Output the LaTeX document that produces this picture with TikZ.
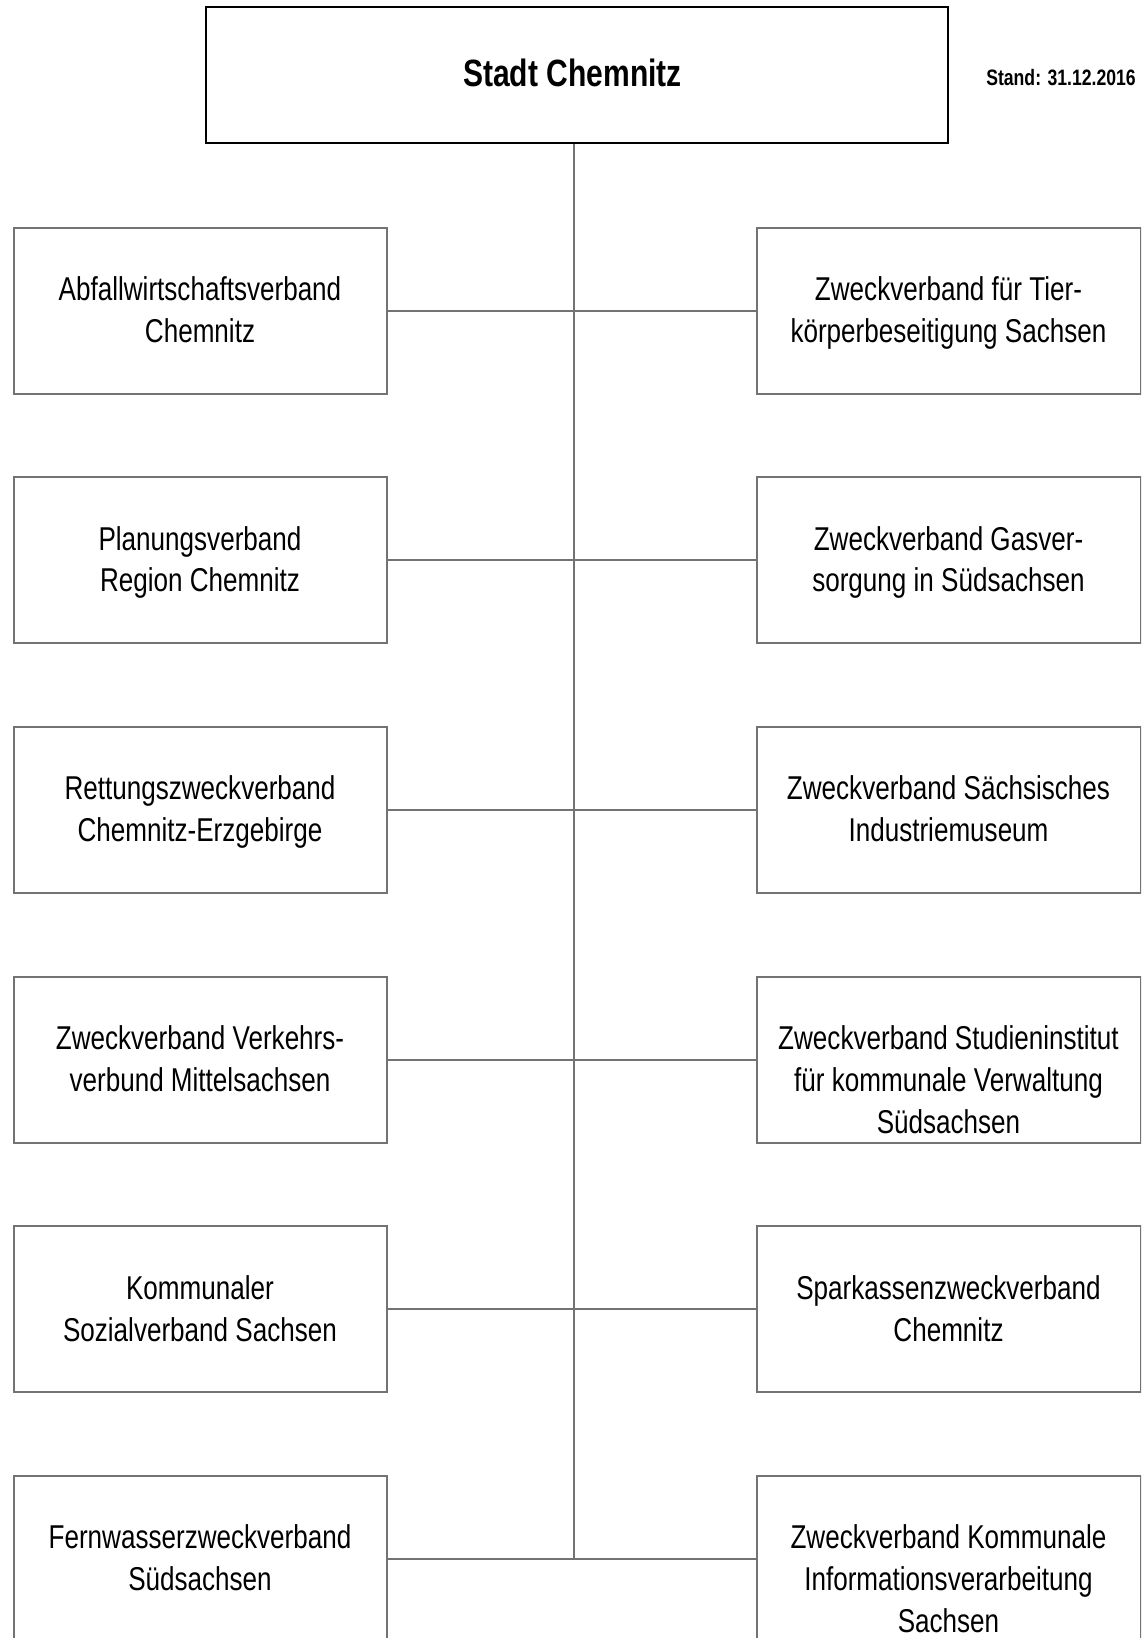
\documentclass[tikz,border=0pt]{standalone}
\usepackage{fontspec}
\setmainfont[FakeStretch=0.79]{Liberation Sans}
\definecolor{linegray}{RGB}{115,115,115}
\begin{document}
\begin{tikzpicture}[x=1pt,y=-1pt,
  orgbox/.style={draw=linegray,line width=2pt,fill=white,minimum width=373pt,minimum height=166pt,inner sep=0pt},
  orgboxr/.style={orgbox,minimum width=384pt},
  orgtext/.style={anchor=north,align=center,inner sep=0pt,font=\fontsize{33}{41.8}\selectfont},
  conn/.style={draw=linegray,line width=2pt}]
\useasboundingbox (0,0) rectangle (1141,1638);
\clip (0,0) rectangle (1141,1638);
\fill[white] (0,0) rectangle (1141,1638);
% trunk
\coordinate (t0) at (573.6,143);
\coordinate (t1) at (573.6,1559);
\draw[conn] (t0) -- (t1);
% top box
\node[draw=black,line width=2.2pt,minimum width=742pt,minimum height=136pt,inner sep=0pt] (top) at (576.8,75) {};
\node[inner sep=0pt,font=\fontsize{38}{46}\selectfont\bfseries] (toptext) at (572.5,73) {Stadt Chemnitz};
\node[anchor=east,inner sep=0pt,font=\fontsize{22.3}{26}\selectfont\bfseries] (stand) at (1136,78) {Stand: 31.12.2016};
% boxes
\foreach \i/\lt/\rt [count=\k from 0] in {
  1/{\strut Abfallwirtschaftsverband\\Chemnitz}/{\strut Zweckverband für Tier-\\körperbeseitigung Sachsen},
  2/{\strut Planungsverband\\Region Chemnitz}/{\strut Zweckverband Gasver-\\sorgung in Südsachsen},
  3/{\strut Rettungszweckverband\\Chemnitz-Erzgebirge}/{\strut Zweckverband Sächsisches\\Industriemuseum},
  4/{\strut Zweckverband Verkehrs-\\verbund Mittelsachsen}/{\strut Zweckverband Studieninstitut\\für kommunale Verwaltung\\Südsachsen},
  5/{\strut Kommunaler\\Sozialverband Sachsen}/{\strut Sparkassenzweckverband\\Chemnitz},
  6/{\strut Fernwasserzweckverband\\Südsachsen}/{\strut Zweckverband Kommunale\\Informationsverarbeitung\\Sachsen}}
{
  \pgfmathsetmacro{\cy}{310.5+249.7*\k}
  \node[orgbox] (l\i) at (200,\cy) {};
  \node[orgboxr] (r\i) at (948.5,\cy) {};
  \node[orgtext] (l\i t) at ([yshift=-44.5pt]l\i.north) {\lt};
  \node[orgtext] (r\i t) at ([yshift=-44.5pt]r\i.north) {\rt};
  \draw[conn] (l\i.east) -- (r\i.west);
}
\end{tikzpicture}
\end{document}
